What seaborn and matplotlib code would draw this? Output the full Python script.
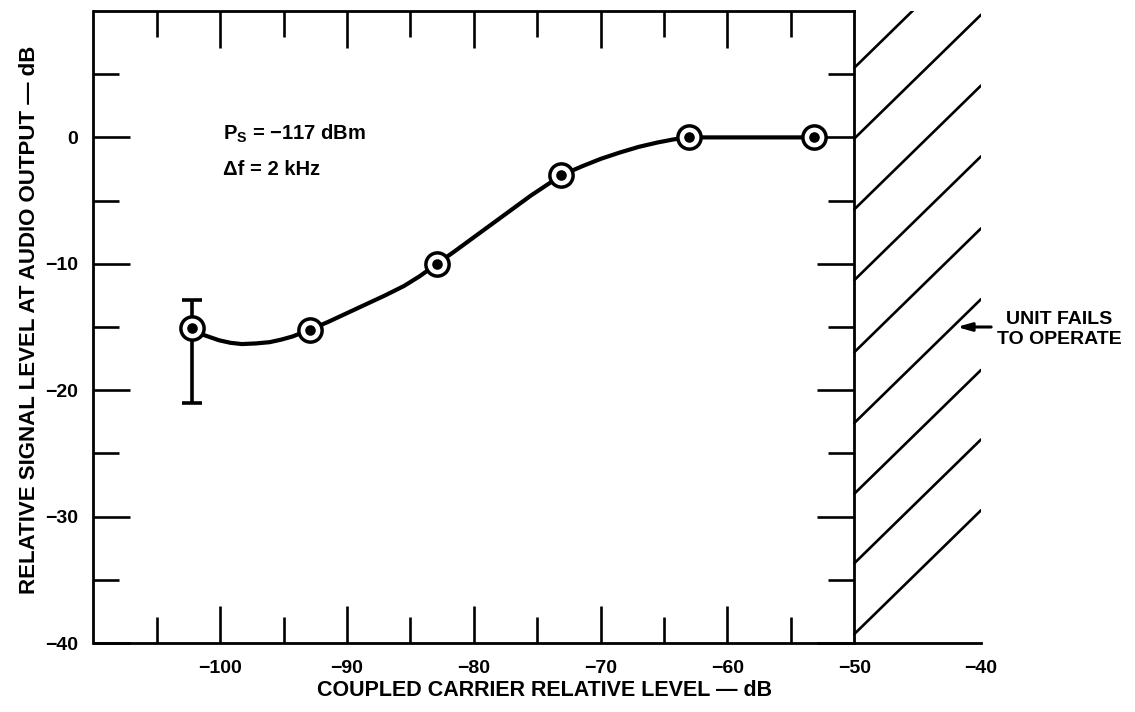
import matplotlib
matplotlib.use("Agg")
import matplotlib.pyplot as plt
import pandas as pd
import seaborn as sns

# Measured readings: coupled carrier level (dB) vs relative audio output (dB)
carrier_db = [-102.2, -92.9, -82.9, -73.1, -63.0, -53.2]
audio_db = [-15.1, -15.2, -10.0, -3.0, 0.0, 0.0]

# Spread of the first reading
spread_low = [-21.0]
spread_high = [-12.9]

# Faired curve drawn through the readings
curve_x = [-102.2, -101.4, -100.1, -99.2, -98.3, -97.2, -96.1, -95.2, -94.3,
           -92.9, -91.5, -90.0, -88.5, -87.0, -85.5, -84.3, -82.9,
           -81.5, -80.0, -78.5, -77.0, -75.5, -74.3, -73.1,
           -71.5, -70.0, -68.5, -67.0, -65.5, -64.2, -63.0, -53.2]
curve_y = [-15.1, -15.6, -16.05, -16.25, -16.35, -16.3, -16.2, -16.0, -15.75,
           -15.2, -14.6, -13.9, -13.2, -12.5, -11.75, -11.0, -10.0,
           -9.0, -7.9, -6.8, -5.7, -4.6, -3.8, -3.0,
           -2.3, -1.7, -1.2, -0.75, -0.4, -0.15, 0.0, 0.0]

# "Unit fails" region: level where each hatch line leaves the -50 dB boundary
fail_edge = -50
fail_end = -40
hatch_y0 = [5.5, -0.1, -5.7, -11.3, -17.0, -22.6, -28.2, -33.7, -39.3]
hatch_rise = 9.8

# Axis ticks
x_major = [-100, -90, -80, -70, -60, -50, -40]
x_minor = [-105, -95, -85, -75, -65, -55]
y_major = [-40, -30, -20, -10, 0]
y_minor = [-35, -25, -15, -5, 5]

sns.set_theme(style="white")
plt.rcParams["font.family"] = ["Liberation Sans", "DejaVu Sans"]
plt.rcParams["font.weight"] = "bold"
plt.rcParams["mathtext.fontset"] = "custom"
plt.rcParams["mathtext.rm"] = "Liberation Sans:bold"

W, H = 1135, 712
fig = plt.figure(figsize=(W / 100, H / 100), dpi=100)
fig.patch.set_facecolor("white")

# Outer axes: full carrier range -110 .. -40 dB
left_px, right_px, top_px, bot_px = 93.5, 981.0, 11.0, 643.0
ax = fig.add_axes([left_px / W, 1 - bot_px / H,
                   (right_px - left_px) / W, (bot_px - top_px) / H])
ax.set_xlim(-110, -40)
ax.set_ylim(-40, 10)
ax.patch.set_visible(False)

# Boxed measurement field: -110 .. -50 dB
box = ax.inset_axes([0, 0, 60 / 70, 1])
box.set_xlim(-110, -50)
box.set_ylim(-40, 10)
box.patch.set_visible(False)

spine_w = 2.0
tick_w = 1.9
maj_len, min_len = 26.5, 18.5

for side in ("left", "top", "right"):
    ax.spines[side].set_visible(False)
ax.spines["bottom"].set_linewidth(spine_w)
ax.spines["bottom"].set_color("black")

for side in ("left", "top", "right"):
    box.spines[side].set_linewidth(spine_w)
    box.spines[side].set_color("black")
box.spines["bottom"].set_visible(False)

# Bottom axis ticks and labels
ax.set_xticks(x_major)
ax.set_xticks(x_minor, minor=True)
ax.set_yticks([])
ax.tick_params(axis="x", which="both", direction="in", bottom=True, top=False,
               width=tick_w, color="black", labelsize=14, labelcolor="black",
               pad=12)
ax.tick_params(axis="x", which="major", length=maj_len)
ax.tick_params(axis="x", which="minor", length=min_len)
for tick, loc in zip(ax.xaxis.get_major_ticks(), x_major):
    if loc >= fail_edge:
        tick.tick1line.set_visible(False)

# Box ticks: top, left and right, all pointing inward
box.set_xticks([v for v in x_major if v < fail_edge])
box.set_xticks(x_minor, minor=True)
box.set_yticks(y_major)
box.set_yticks(y_minor, minor=True)
box.tick_params(axis="x", which="both", direction="in", bottom=False, top=True,
                labelbottom=False, labeltop=False, width=tick_w, color="black")
box.tick_params(axis="y", which="both", direction="in", left=True, right=True,
                labelleft=True, labelright=False, width=tick_w, color="black",
                labelsize=14, labelcolor="black", pad=11)
box.tick_params(axis="both", which="major", length=maj_len)
box.tick_params(axis="both", which="minor", length=min_len)

# Hatching for the region where the unit fails
hatch_df = pd.DataFrame({
    "x": [v for _ in hatch_y0 for v in (fail_edge, fail_end)],
    "y": [v for y0 in hatch_y0 for v in (y0, y0 + hatch_rise)],
    "line": [i for i in range(len(hatch_y0)) for _ in range(2)],
})
sns.lineplot(data=hatch_df, x="x", y="y", units="line", estimator=None,
             color="black", linewidth=1.9, ax=ax, legend=False)

# Faired response curve
sns.lineplot(x=curve_x, y=curve_y, sort=False, estimator=None, color="black",
             linewidth=3.0, ax=box, zorder=3)

# Spread bar on the first reading
box.errorbar(carrier_db[0], audio_db[0],
             yerr=[[audio_db[0] - spread_low[0]], [spread_high[0] - audio_db[0]]],
             fmt="none", ecolor="black", elinewidth=2.6, capsize=7.5,
             capthick=2.6, zorder=3)

# Reading markers: open circle with a solid centre dot
sns.scatterplot(x=carrier_db, y=audio_db, s=280, marker="o", color="white",
                edgecolor="black", linewidth=2.5, ax=box, zorder=4)
sns.scatterplot(x=carrier_db, y=audio_db, s=58, marker="o", color="black",
                edgecolor="black", linewidth=0, ax=box, zorder=5)

ax.set_xlabel("")
ax.set_ylabel("")
box.set_xlabel("")
box.set_ylabel("")

# Test conditions
box.text(-99.8, -0.2, r"P$_{\mathregular{S}}$ = −117 dBm", fontsize=14.5,
         ha="left", va="baseline", color="black")
box.text(-99.8, -3.0, "Δf = 2 kHz", fontsize=14.5, ha="left", va="baseline",
         color="black")

# Failure-region callout
ax.text(-33.8, -15.2, "UNIT FAILS\nTO OPERATE", fontsize=14, ha="center",
        va="center", linespacing=1.3, color="black", clip_on=False)
ax.annotate("", xy=(-41.9, -15.0), xytext=(-39.2, -15.0),
            arrowprops=dict(arrowstyle="-|>,head_length=0.7,head_width=0.2",
                            color="black", lw=2.2, shrinkA=0, shrinkB=0),
            annotation_clip=False)

# Axis titles
fig.text(545 / W, 1 - 691 / H, "COUPLED CARRIER RELATIVE LEVEL — dB",
         fontsize=15.5, ha="center", va="center", color="black")
fig.text(30 / W, 1 - 320 / H, "RELATIVE SIGNAL LEVEL AT AUDIO OUTPUT — dB",
         fontsize=16, rotation=90, ha="center", va="center", color="black")

fig.savefig("out.png", dpi=100, facecolor="white")
